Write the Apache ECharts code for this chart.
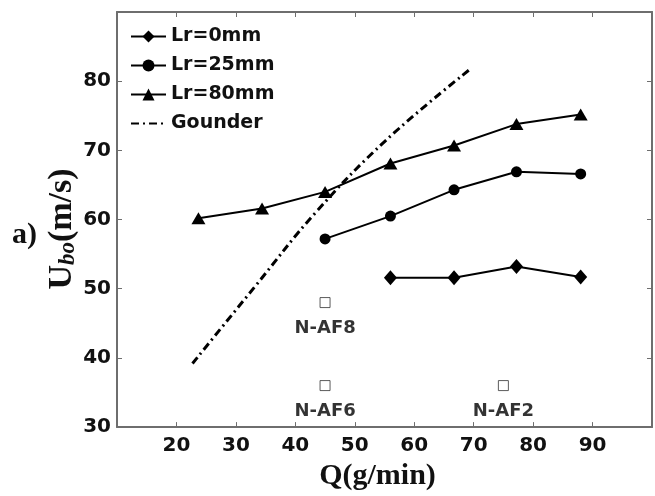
<!DOCTYPE html>
<html>
<head>
<meta charset="utf-8">
<script src="https://cdn.jsdelivr.net/npm/echarts@6/dist/echarts.min.js"></script>
<style>
  html, body { margin: 0; padding: 0; background: #fff; }
  #chart { width: 655px; height: 496px; }
</style>
</head>
<body>
<div id="chart"></div>
<script>
// 数据
const qLr0 = [56, 66.7, 77.2, 88]
const uLr0 = [51.6, 51.6, 53.2, 51.7]
const qLr25 = [45, 56, 66.7, 77.2, 88]
const uLr25 = [57.2, 60.5, 64.3, 66.9, 66.6]
const qLr80 = [23.7, 34.4, 45, 56, 66.7, 77.2, 88]
const uLr80 = [60.2, 61.6, 64, 68.1, 70.7, 73.8, 75.2]
const qGounder = [22.7, 33.1, 43.4, 55.3, 69.5]
const uGounder = [39.2, 50.2, 61.0, 71.5, 81.8]
const refNames = ['N-AF8', 'N-AF6', 'N-AF2']
const refQ = [45, 45, 75]
const refU = [48, 36, 36]

const zip = (xs, ys) => xs.map((x, i) => [x, ys[i]])

const FONT = 'DejaVu Sans'
const SERIF = 'Liberation Serif'
const axisColor = '#6e6e6e'

const chart = echarts.init(document.getElementById('chart'))

// 坐标轴公共部分
const baseX = {
  type: 'value', min: 10, max: 100, interval: 10,
  splitLine: { show: false },
  axisLine: { onZero: false, lineStyle: { color: axisColor, width: 2 } },
  axisTick: { inside: true, length: 5, lineStyle: { color: axisColor, width: 1 } }
}
const baseY = {
  type: 'value', min: 30, max: 90, interval: 10,
  splitLine: { show: false },
  axisLine: { onZero: false, lineStyle: { color: axisColor, width: 2 } },
  axisTick: { inside: true, length: 5, lineStyle: { color: axisColor, width: 1 } }
}

const lineSeries = (name, symbol, size, data) => ({
  name: name,
  type: 'line',
  data: data,
  symbol: symbol,
  symbolSize: size,
  showSymbol: true,
  itemStyle: { color: '#000' },
  lineStyle: { color: '#000', width: 2 }
})

const option = {
  animation: false,
  grid: { left: 117, right: 2, top: 12, bottom: 61 },
  legend: {
    orient: 'vertical',
    left: 130,
    top: 27,
    padding: 0,
    itemWidth: 35,
    itemHeight: 15,
    itemGap: 10,
    data: ['Lr=0mm', 'Lr=25mm', 'Lr=80mm', { name: 'Gounder', itemStyle: { opacity: 0 } }],
    textStyle: { fontFamily: FONT, fontWeight: 'bold', fontSize: 19, color: '#111' }
  },
  xAxis: [
    Object.assign({}, baseX, {
      position: 'bottom',
      name: 'Q(g/min)',
      nameLocation: 'middle',
      nameGap: 22,
      nameTextStyle: {
        fontFamily: SERIF, fontWeight: 'bold', fontSize: 30, color: '#111',
        verticalAlign: 'top', padding: [0, 14, 0, 0]
      },
      axisLabel: {
        margin: 9,
        fontFamily: FONT, fontWeight: 'bold', fontSize: 20, color: '#111',
        formatter: v => (v === 10 || v === 100) ? '' : v
      }
    }),
    Object.assign({}, baseX, { position: 'top', axisLabel: { show: false } })
  ],
  yAxis: [
    Object.assign({}, baseY, {
      position: 'left',
      axisLabel: {
        margin: 6,
        fontFamily: FONT, fontWeight: 'bold', fontSize: 20, color: '#111',
        formatter: v => v === 90 ? '' : v
      }
    }),
    Object.assign({}, baseY, { position: 'right', axisLabel: { show: false } })
  ],
  graphic: [
    {
      type: 'text',
      left: 12,
      top: 220,
      style: { text: 'a)', fontFamily: SERIF, fontWeight: 'bold', fontSize: 30, fill: '#111' }
    },
    {
      // 纵轴标题 U_bo(m/s)
      type: 'text',
      x: 62,
      y: 229,
      rotation: Math.PI / 2,
      style: {
        text: '{u|U}{s|bo}{u|(m/s)}',
        align: 'center',
        verticalAlign: 'middle',
        rich: {
          u: { fontFamily: SERIF, fontWeight: 'bold', fontSize: 34, fill: '#111', lineHeight: 36, verticalAlign: 'middle' },
          s: { fontFamily: SERIF, fontWeight: 'bold', fontStyle: 'italic', fontSize: 23, fill: '#111', lineHeight: 22, verticalAlign: 'bottom' }
        }
      }
    }
  ],
  series: [
    lineSeries('Lr=0mm', 'diamond', [13, 15], zip(qLr0, uLr0)),
    lineSeries('Lr=25mm', 'circle', 11, zip(qLr25, uLr25)),
    lineSeries('Lr=80mm', 'triangle', [14, 12], zip(qLr80, uLr80)),
    {
      name: 'Gounder',
      type: 'line',
      data: zip(qGounder, uGounder),
      smooth: 0.4,
      symbol: 'none',
      itemStyle: { color: '#000' },
      lineStyle: { color: '#000', width: 3, type: [8, 4, 2, 4] }
    },
    {
      name: 'refs',
      type: 'scatter',
      data: zip(refQ, refU),
      symbol: 'rect',
      symbolSize: 10,
      itemStyle: { color: '#fff', borderColor: '#333', borderWidth: 1 },
      label: {
        show: true,
        position: 'bottom',
        distance: 11,
        formatter: p => refNames[p.dataIndex],
        fontFamily: FONT, fontWeight: 'bold', fontSize: 18, color: '#000'
      }
    }
  ]
}

chart.setOption(option)
</script>
</body>
</html>
